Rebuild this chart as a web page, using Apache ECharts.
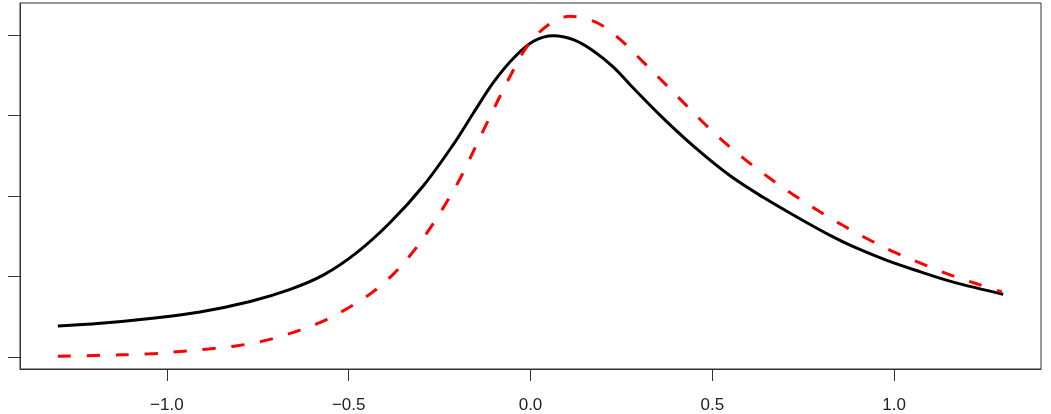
<!DOCTYPE html>
<html>
<head>
<meta charset="utf-8">
<script src="https://cdn.jsdelivr.net/npm/echarts@6/dist/echarts.min.js"></script>
<style>
html,body{margin:0;padding:0;background:#fff;}
#chart{width:1051px;height:414px;}
</style>
</head>
<body>
<div id="chart"></div>
<script>
// tick positions
const xTicks = [-1.0, -0.5, 0.0, 0.5, 1.0];
const yTicks = [0, 1, 2, 3, 4];

// solid black curve
const blackX = [-1.30, -1.183, -1.046, -0.909, -0.771, -0.661, -0.569, -0.477, -0.386, -0.294, -0.212, -0.157, -0.102, -0.047, 0.008, 0.063, 0.118, 0.173, 0.228, 0.274, 0.366, 0.458, 0.549, 0.641, 0.732, 0.824, 0.888, 0.980, 1.071, 1.163, 1.30];
const blackY = [0.386, 0.42, 0.48, 0.56, 0.69, 0.84, 1.02, 1.30, 1.67, 2.13, 2.64, 3.03, 3.41, 3.71, 3.92, 3.99, 3.94, 3.80, 3.60, 3.38, 2.96, 2.58, 2.25, 1.98, 1.74, 1.51, 1.37, 1.20, 1.06, 0.93, 0.78];

// dashed red curve
const redX = [-1.30, -1.20, -1.046, -0.963, -0.885, -0.807, -0.725, -0.650, -0.578, -0.505, -0.436, -0.377, -0.326, -0.276, -0.235, -0.193, -0.166, -0.129, -0.088, -0.051, -0.010, 0.045, 0.109, 0.183, 0.247, 0.306, 0.366, 0.425, 0.480, 0.540, 0.599, 0.664, 0.728, 0.797, 0.861, 0.934, 1.007, 1.081, 1.154, 1.227, 1.296];
const redY = [0.01, 0.02, 0.04, 0.07, 0.10, 0.14, 0.21, 0.31, 0.43, 0.60, 0.80, 1.03, 1.29, 1.60, 1.89, 2.22, 2.47, 2.82, 3.20, 3.53, 3.85, 4.11, 4.23, 4.15, 3.94, 3.68, 3.41, 3.14, 2.89, 2.64, 2.42, 2.20, 2.00, 1.80, 1.63, 1.45, 1.29, 1.15, 1.02, 0.91, 0.81];

const zip = (xs, ys) => xs.map((x, i) => [x, ys[i]]);

const chart = echarts.init(document.getElementById('chart'), null, {renderer: 'canvas'});
chart.setOption({
  animation: false,
  backgroundColor: '#ffffff',
  grid: {
    left: 20, right: 10, top: 3, bottom: 43,
    show: true, borderColor: '#333', borderWidth: 1, backgroundColor: 'transparent'
  },
  xAxis: {
    type: 'value',
    min: -1.404, max: 1.404,
    splitLine: {show: false},
    axisLine: {show: true, onZero: false, lineStyle: {color: '#333', width: 1}},
    axisTick: {show: true, length: 12, customValues: xTicks, lineStyle: {color: '#333', width: 1}},
    axisLabel: {
      customValues: xTicks,
      margin: 28,
      fontFamily: 'Liberation Sans, Arial, sans-serif',
      fontSize: 17,
      color: '#222',
      formatter: v => (v < 0 ? '\u2212' : '') + Math.abs(v).toFixed(1)
    }
  },
  yAxis: {
    type: 'value',
    min: -0.148, max: 4.395,
    splitLine: {show: false},
    axisLine: {show: true, onZero: false, lineStyle: {color: '#333', width: 1}},
    axisTick: {show: true, length: 12, customValues: yTicks, lineStyle: {color: '#333', width: 1}},
    axisLabel: {show: false, customValues: yTicks}
  },
  series: [
    {
      type: 'line',
      data: zip(blackX, blackY),
      smooth: 0.35,
      showSymbol: false,
      lineStyle: {color: '#000', width: 3}
    },
    {
      type: 'line',
      data: zip(redX, redY),
      smooth: 0.35,
      showSymbol: false,
      lineStyle: {color: '#ff0000', width: 3, type: [13, 16]}
    }
  ]
});
</script>
</body>
</html>
